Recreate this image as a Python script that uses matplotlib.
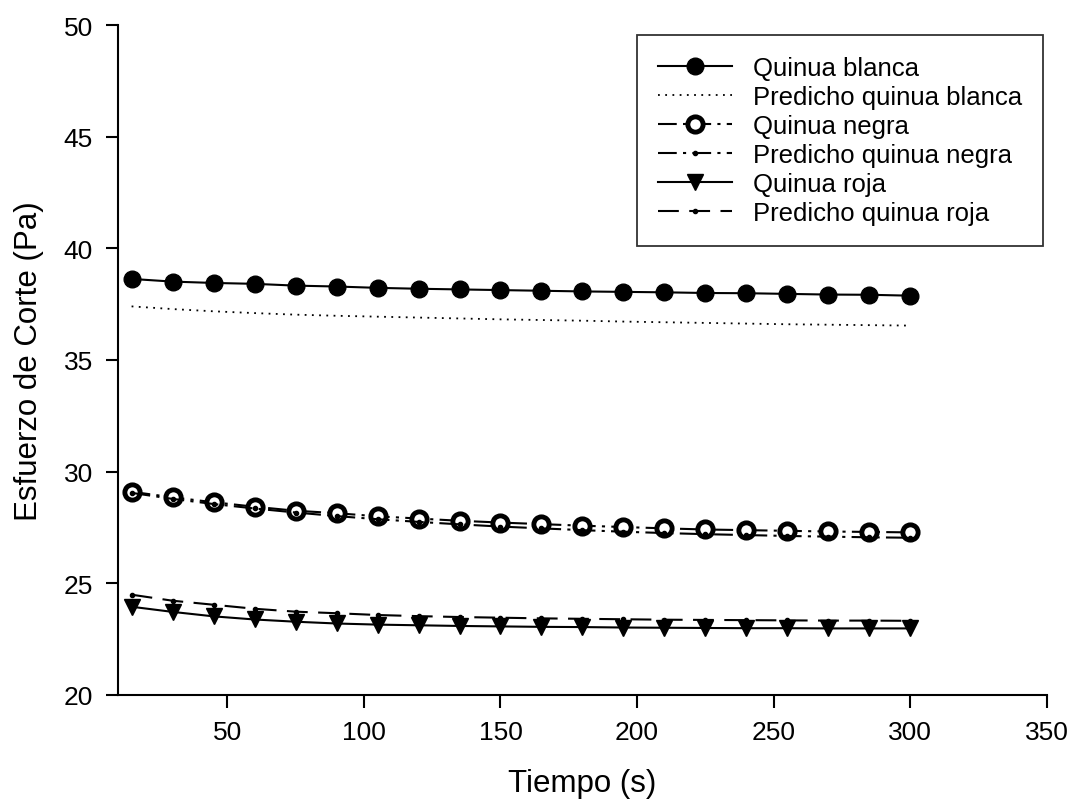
import matplotlib.pyplot as plt

plt.rcParams['font.family'] = ['Liberation Sans', 'DejaVu Sans']

# Time axis (s)
tiempo = [15, 30, 45, 60, 75, 90, 105, 120, 135, 150,
          165, 180, 195, 210, 225, 240, 255, 270, 285, 300]

# Shear stress (Pa)
blanca = [38.63, 38.51, 38.45, 38.41, 38.33, 38.29, 38.23, 38.19, 38.16, 38.13,
          38.10, 38.07, 38.05, 38.03, 38.00, 37.99, 37.96, 37.93, 37.92, 37.88]
pred_blanca = [37.40, 37.28, 37.18, 37.10, 37.03, 36.98, 36.94, 36.90, 36.86, 36.82,
               36.79, 36.76, 36.72, 36.69, 36.66, 36.63, 36.60, 36.58, 36.56, 36.54]
negra = [29.10, 28.85, 28.63, 28.43, 28.25, 28.14, 28.00, 27.90, 27.80, 27.72,
         27.65, 27.58, 27.52, 27.46, 27.41, 27.38, 27.35, 27.32, 27.30, 27.28]
pred_negra = [29.05, 28.78, 28.55, 28.35, 28.17, 28.01, 27.87, 27.75, 27.64, 27.54,
              27.46, 27.38, 27.31, 27.25, 27.20, 27.16, 27.12, 27.09, 27.06, 27.04]
roja = [23.95, 23.72, 23.52, 23.38, 23.28, 23.20, 23.15, 23.12, 23.09, 23.07,
        23.05, 23.04, 23.02, 23.01, 23.00, 22.99, 22.99, 22.98, 22.98, 22.98]
pred_roja = [24.49, 24.22, 24.04, 23.86, 23.73, 23.66, 23.58, 23.53, 23.49, 23.46,
             23.43, 23.41, 23.39, 23.37, 23.36, 23.35, 23.34, 23.33, 23.33, 23.32]

fig = plt.figure(figsize=(10.72, 8.03), dpi=100)
ax = fig.add_axes([0.110, 0.1333, 0.8667, 0.8343])

dashdot = (0, (9, 3, 1.5, 3))

ax.plot(tiempo, blanca, color='black', lw=1.5, marker='o', ms=12,
        label='Quinua blanca')
ax.plot(tiempo, pred_blanca, color='black', lw=1.3, linestyle=(0, (1, 3)),
        label='Predicho quinua blanca')
ax.plot(tiempo, negra, color='black', lw=1.5, linestyle=dashdot, marker='o', ms=11,
        mfc='white', mec='black', mew=3.5, label='Quinua negra')
ax.plot(tiempo, pred_negra, color='black', lw=1.5, linestyle=dashdot, marker='o',
        ms=3, label='Predicho quinua negra')
ax.plot(tiempo, roja, color='black', lw=1.5, marker='v', ms=12,
        label='Quinua roja')
ax.plot(tiempo, pred_roja, color='black', lw=1.5, linestyle=(0, (10, 5)), marker='o',
        ms=3, label='Predicho quinua roja')

ax.set_xlim(10, 350)
ax.set_ylim(20, 50)
ax.set_xticks([50, 100, 150, 200, 250, 300, 350])
ax.set_yticks([20, 25, 30, 35, 40, 45, 50])
ax.spines['top'].set_visible(False)
ax.spines['right'].set_visible(False)
ax.spines['left'].set_linewidth(1.5)
ax.spines['bottom'].set_linewidth(1.5)
ax.tick_params(direction='out', length=9, width=1.5, labelsize=19, pad=9)

ax.set_xlabel('Tiempo (s)', fontsize=22.5, labelpad=17)
ax.set_ylabel('Esfuerzo de Corte (Pa)', fontsize=22.5, labelpad=14)

leg = ax.legend(loc='upper left', bbox_to_anchor=(0.559, 0.985), borderaxespad=0,
                fontsize=18.5, frameon=True, fancybox=False, edgecolor='black',
                handlelength=2.9, labelspacing=0.2, borderpad=0.8, handletextpad=0.8)
leg.get_frame().set_linewidth(1.3)

fig.savefig('out.png', dpi=100)
